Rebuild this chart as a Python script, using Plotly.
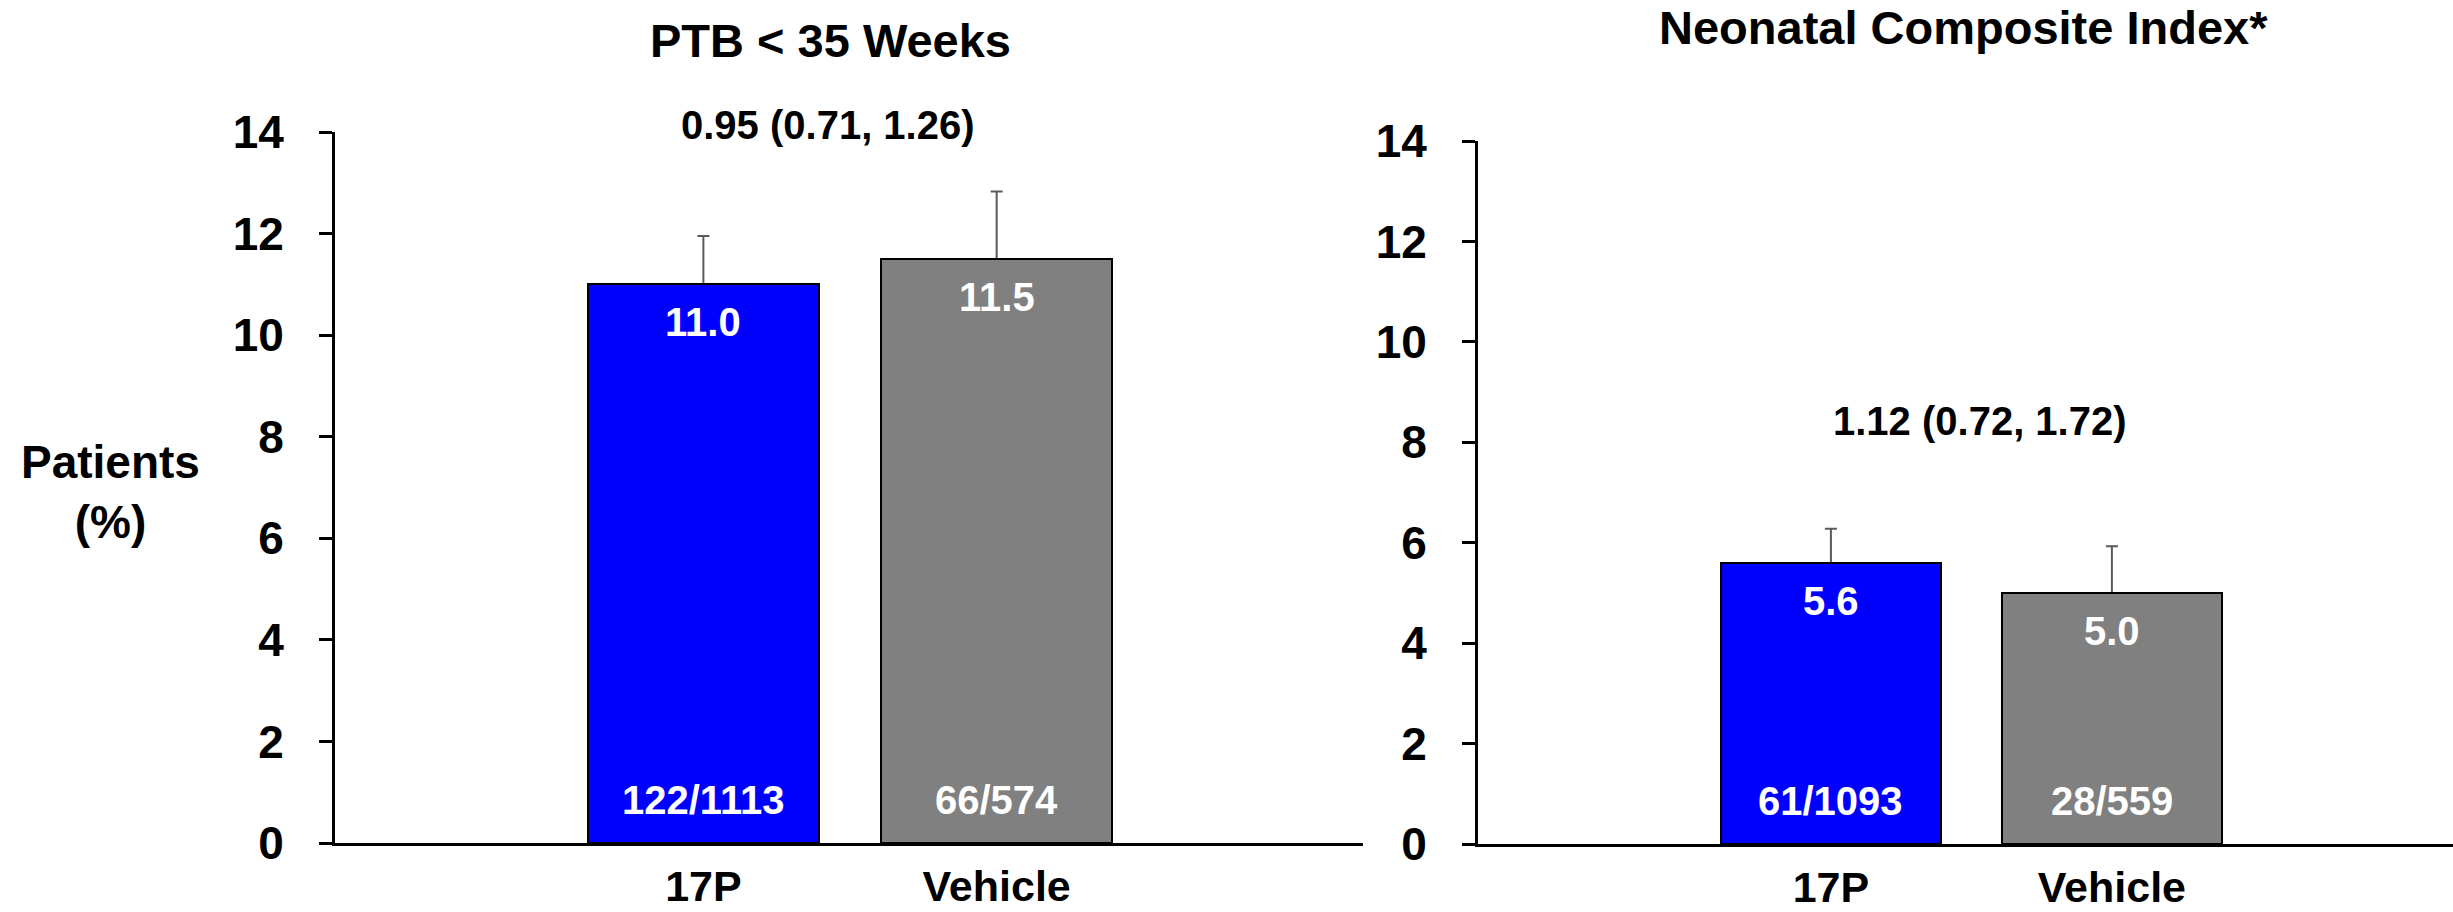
import plotly.graph_objects as go

# ---------------- data ----------------
groups = ["17P", "Vehicle"]
ptb_pct = [11.0, 11.5]
ptb_err_up = [0.95, 1.33]
ptb_counts = ["122/1113", "66/574"]
ptb_hr = "0.95 (0.71, 1.26)"

nci_pct = [5.6, 5.0]
nci_err_up = [0.68, 0.93]
nci_counts = ["61/1093", "28/559"]
nci_hr = "1.12 (0.72, 1.72)"

titles = ["PTB < 35 Weeks", "Neonatal Composite Index*"]
y_title = "Patients<br>(%)"
y_ticks = [0, 2, 4, 6, 8, 10, 12, 14]
bar_colors = ["#0000FF", "#808080"]

# ---------------- layout helpers ----------------
W, H = 2453, 912
FONT = "Arial, Liberation Sans, sans-serif"


def fx(p):
    return p / W


def fy(p):
    return 1 - p / H


panels = [
    dict(x="x", y="y", xa="xaxis", ya="yaxis", pct=ptb_pct, err=ptb_err_up,
         counts=ptb_counts, hr=ptb_hr, title=titles[0],
         xdom=[fx(335), fx(1363)], ydom=[fy(843), fy(132)],
         xrange=[-1.256, 2.249], width=0.788,
         title_pos=(830, 40), hr_pos=(828, 125)),
    dict(x="x2", y="y2", xa="xaxis2", ya="yaxis2", pct=nci_pct, err=nci_err_up,
         counts=nci_counts, hr=nci_hr, title=titles[1],
         xdom=[fx(1478), 1.0], ydom=[fy(844), fy(141)],
         xrange=[-1.256, 2.214], width=0.783,
         title_pos=(1963, 28), hr_pos=(1980, 421)),
]

fig = go.Figure()
annotations = []
shapes = []
layout = {}

for p in panels:
    # bars with (symmetric) error bars, then the same bars drawn on top so only
    # the upper half of each error bar is visible
    fig.add_trace(go.Bar(
        x=groups, y=p["pct"], xaxis=p["x"], yaxis=p["y"], width=p["width"],
        marker=dict(color=bar_colors, line=dict(color="#000000", width=2)),
        error_y=dict(type="data", array=p["err"], symmetric=True,
                     color="#5a5a5a", thickness=2, width=6),
        showlegend=False, hoverinfo="skip"))
    fig.add_trace(go.Bar(
        x=groups, y=p["pct"], xaxis=p["x"], yaxis=p["y"], width=p["width"],
        marker=dict(color=bar_colors, line=dict(color="#000000", width=2)),
        showlegend=False))

    layout[p["xa"]] = dict(
        domain=p["xdom"], anchor=p["y"], type="category", automargin=False,
        range=p["xrange"], showline=True, linecolor="#000000", linewidth=3,
        ticks="", showgrid=False, zeroline=False,
        tickfont=dict(family=FONT, size=43, color="#000000", weight="bold"),
        ticklabelstandoff=3, fixedrange=True)
    layout[p["ya"]] = dict(
        domain=p["ydom"], anchor=p["x"], range=[0, 14], automargin=False,
        tickmode="array", tickvals=y_ticks,
        showline=True, linecolor="#000000", linewidth=3,
        ticks="outside", ticklen=13, tickwidth=3, tickcolor="#000000",
        showgrid=False, zeroline=False,
        tickfont=dict(family=FONT, size=46, color="#000000", weight="bold"),
        ticklabelstandoff=26, fixedrange=True)

    # value labels inside the bar tops
    for g, v in zip(groups, p["pct"]):
        annotations.append(dict(
            x=g, y=v, xref=p["x"], yref=p["y"], text=f"{v:.1f}",
            showarrow=False, yanchor="top", yshift=-14,
            font=dict(family=FONT, size=40, color="#ffffff", weight="bold")))
    # n/N labels at the bar bottoms
    for g, c in zip(groups, p["counts"]):
        annotations.append(dict(
            x=g, y=0, xref=p["x"], yref=p["y"], text=c,
            showarrow=False, yanchor="bottom", yshift=19,
            font=dict(family=FONT, size=40, color="#ffffff", weight="bold")))

    # panel title
    annotations.append(dict(
        x=fx(p["title_pos"][0]), y=fy(p["title_pos"][1]), xref="paper", yref="paper",
        text=p["title"], showarrow=False, xanchor="center", yanchor="middle",
        font=dict(family=FONT, size=47, color="#000000", weight="bold")))
    # hazard ratio text
    annotations.append(dict(
        x=fx(p["hr_pos"][0]), y=fy(p["hr_pos"][1]), xref="paper", yref="paper",
        text=p["hr"], showarrow=False, xanchor="center", yanchor="middle",
        font=dict(family=FONT, size=40, color="#000000", weight="bold")))

    # y-axis line continues a tick length below the x axis
    shapes.append(dict(
        type="line", xref=p["x"] + " domain", yref=p["y"],
        x0=0, x1=0, ysizemode="pixel", yanchor=0, y0=0, y1=-13,
        line=dict(color="#000000", width=3)))

# y-axis title
annotations.append(dict(
    x=fx(110), y=fy(492), xref="paper", yref="paper", text=y_title,
    showarrow=False, xanchor="center", yanchor="middle", align="center",
    font=dict(family=FONT, size=46, color="#000000", weight="bold")))

fig.update_layout(
    template="none",
    width=W, height=H,
    margin=dict(l=0, r=0, t=0, b=0, pad=0, autoexpand=False),
    paper_bgcolor="#ffffff", plot_bgcolor="#ffffff",
    barmode="overlay", bargap=0,
    annotations=annotations, shapes=shapes,
    **layout)

fig.write_html(
    "out.html",
    config={"displayModeBar": False},
    post_script="document.body.style.margin='0px';document.body.style.overflow='hidden';",
)
